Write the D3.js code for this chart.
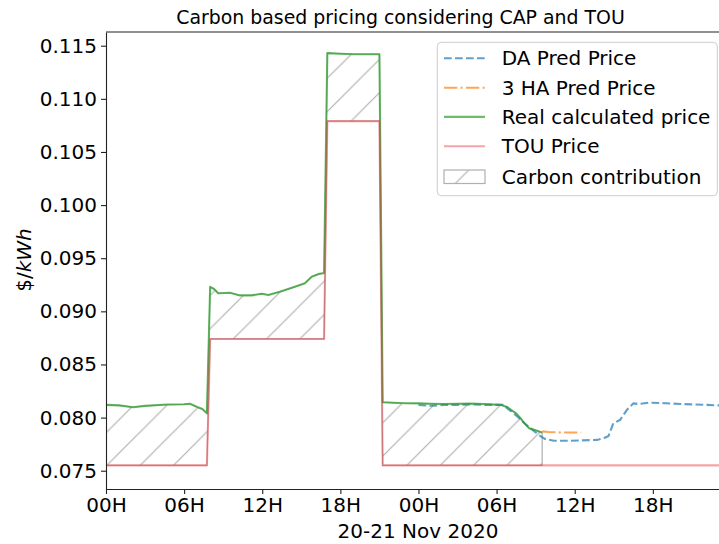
<!DOCTYPE html>
<html>
<head>
<meta charset="utf-8">
<script src="https://cdn.jsdelivr.net/npm/d3@7"></script>
<style>
  body { margin: 0; background: #fff; }
  svg { display: block; }
  text { font-family: "DejaVu Sans", sans-serif; fill: #000; }
</style>
</head>
<body>
<svg id="chart" width="719" height="544"></svg>
<script>
// Hours since 00:00 on 20 Nov 2020, with prices in $/kWh
const touHours   = [0, 7.75, 8, 16.75, 17, 21, 21.25, 47.75];
const touPrice   = [0.0755, 0.0755, 0.0874, 0.0874, 0.1079, 0.1079, 0.0755, 0.0755];

const realHours  = [0, 1, 2.07, 3, 4.7, 6, 6.45, 7.0, 7.4, 7.75,
                    8.0, 8.3, 8.62, 9.52, 10.29, 11.19, 11.96, 12.47, 13.36, 14.39, 15.28, 15.8, 16.3, 16.75,
                    17.0, 18, 19, 20, 21.0,
                    21.25, 22, 23, 24, 25, 26, 27, 28, 29, 30.3, 30.8, 31.5, 31.8, 32.05, 32.5, 33.0, 33.25, 33.5];
const realPrice  = [0.0812, 0.08115, 0.08098, 0.0811, 0.08123, 0.08125, 0.0813, 0.0810, 0.0808, 0.0804,
                    0.0923, 0.0921, 0.0917, 0.09175, 0.0915, 0.0915, 0.09166, 0.09154, 0.09185, 0.09226, 0.09264, 0.09326, 0.0935, 0.0936,
                    0.1143, 0.11425, 0.1142, 0.1142, 0.1142,
                    0.08145, 0.0814, 0.08135, 0.08134, 0.0813, 0.08128, 0.0813, 0.08132, 0.08128, 0.0812, 0.0810, 0.0804, 0.0800, 0.0796, 0.0790, 0.0788, 0.0787, 0.0786];

const daHours    = [24, 25, 26, 27, 28, 29, 30.5, 30.9, 31.5, 32.2, 32.6, 33.2, 33.7, 34.4, 35.5, 36.5, 37.7, 38.3, 38.6,
                    38.96, 39.48, 40.0, 40.5, 40.9, 41.65, 43, 44.1, 46, 47.75];
const daPrice    = [0.08118, 0.08112, 0.0812, 0.0812, 0.08125, 0.0812, 0.0812, 0.0808, 0.0802, 0.0794, 0.0790, 0.0784, 0.0780, 0.07782, 0.07782, 0.07785, 0.0779, 0.0781, 0.07827,
                    0.07946, 0.07977, 0.08071, 0.08134, 0.08128, 0.0814, 0.08135, 0.08128, 0.0812, 0.08112];

const ha3Hours   = [33.5, 34, 35, 36, 36.5];
const ha3Price   = [0.0787, 0.07865, 0.0786, 0.0786, 0.0786];

const xTickHours = [0, 6, 12, 18, 24, 30, 36, 42];
const xTickText  = ["00H", "06H", "12H", "18H", "00H", "06H", "12H", "18H"];
const yTicks     = [0.075, 0.080, 0.085, 0.090, 0.095, 0.100, 0.105, 0.110, 0.115];

const seriesNames = ["DA Pred Price", "3 HA Pred Price", "Real calculated price", "TOU Price", "Carbon contribution"];

const zip = (ts, vs) => ts.map((t, i) => ({ t, v: vs[i] }));
const tou  = zip(touHours, touPrice);
const real = zip(realHours, realPrice);
const da   = zip(daHours, daPrice);
const ha3  = zip(ha3Hours, ha3Price);

const svg = d3.select("#chart");
const plotL = 106, plotR = 727.7, plotT = 32, plotB = 489;
const x = d3.scaleLinear().domain([0, 47.75]).range([plotL, plotR]);
const y = d3.scaleLinear().domain([0.07328, 0.11629]).range([plotB, plotT]);

const FS = 20;
const defs = svg.append("defs");
defs.append("clipPath").attr("id", "plot-clip")
  .append("rect").attr("x", plotL).attr("y", plotT).attr("width", plotR - plotL).attr("height", plotB - plotT);

// diagonal "/" hatch, 45 degrees
const P = 100 / 3;
const pat = defs.append("pattern").attr("id", "hatch")
  .attr("patternUnits", "userSpaceOnUse")
  .attr("x", 5.5).attr("y", 0).attr("width", P).attr("height", P);
pat.append("path")
  .attr("d", `M0,${P} L${P},0 M${-P/2},${P/2} L${P/2},${-P/2} M${P/2},${1.5*P} L${1.5*P},${P/2}`)
  .attr("stroke", "#b0b0b0").attr("stroke-width", 1.2).attr("fill", "none");

const line = d3.line().x(d => x(d.t)).y(d => y(d.v));

const plot = svg.append("g").attr("clip-path", "url(#plot-clip)");

// carbon share: region between the real price and the TOU price
const endHour = realHours[realHours.length - 1];
const touUnder = tou.filter(d => d.t <= endHour).concat([{ t: endHour, v: touPrice[touPrice.length - 1] }]);
const region = real.concat(touUnder.slice().reverse());
plot.append("path")
  .attr("d", line(region) + "Z")
  .attr("fill", "url(#hatch)")
  .attr("stroke", "#b0b0b0").attr("stroke-width", 1.2);

const styles = {
  da:   { color: "#1f77b4", op: 0.7, dash: "7.7,3.3" },
  ha3:  { color: "#ff7f0e", op: 0.7, dash: "13.3,3.3,2.1,3.3" },
  real: { color: "#2ca02c", op: 0.7, dash: null },
  tou:  { color: "#e8383a", op: 0.45, dash: null }
};

function drawLine(data, s) {
  plot.append("path")
    .attr("d", line(data))
    .attr("fill", "none")
    .attr("stroke", s.color).attr("stroke-opacity", s.op)
    .attr("stroke-width", 2.1)
    .attr("stroke-dasharray", s.dash)
    .attr("stroke-linejoin", "round");
}
drawLine(da, styles.da);
drawLine(ha3, styles.ha3);
drawLine(real, styles.real);
drawLine(tou, styles.tou);

// axes
const xAxis = svg.append("g").attr("transform", `translate(0,${plotB})`)
  .call(d3.axisBottom(x).tickValues(xTickHours).tickFormat((d, i) => xTickText[i]).tickSize(5).tickSizeOuter(0).tickPadding(4));
const yAxis = svg.append("g").attr("transform", `translate(${plotL},0)`)
  .call(d3.axisLeft(y).tickValues(yTicks).tickFormat(d3.format(".3f")).tickSize(5).tickSizeOuter(0).tickPadding(4));
[xAxis, yAxis].forEach(g => {
  g.selectAll("text").style("font-size", FS + "px").style("font-family", "DejaVu Sans");
  g.selectAll("line, path").attr("stroke", "#222").attr("stroke-width", 1.1);
});
svg.append("line").attr("x1", plotL).attr("x2", plotR).attr("y1", plotT).attr("y2", plotT)
  .attr("stroke", "#222").attr("stroke-width", 1.1);

// titles
svg.append("text").attr("x", 400.5).attr("y", 24).attr("text-anchor", "middle")
  .style("font-size", "18.9px").text("Carbon based pricing considering CAP and TOU");
svg.append("text").attr("x", 418).attr("y", 538).attr("text-anchor", "middle")
  .style("font-size", FS + "px").text("20-21 Nov 2020");
const yl = svg.append("text").attr("transform", "translate(31,260) rotate(-90)")
  .attr("text-anchor", "middle").style("font-size", FS + "px");
yl.append("tspan").text("$/");
yl.append("tspan").style("font-style", "italic").text("kWh");

// legend
const lg = svg.append("g");
lg.append("rect").attr("x", 437.3).attr("y", 42.3).attr("width", 280).attr("height", 153.4)
  .attr("rx", 4).attr("fill", "#fff").attr("fill-opacity", 0.8).attr("stroke", "#cccccc").attr("stroke-width", 1);
const rowY = [58.3, 87.7, 116.9, 146.2, 176.7];
const legendStyles = [styles.da, styles.ha3, styles.real, styles.tou];
legendStyles.forEach((s, i) => {
  lg.append("line").attr("x1", 444).attr("x2", 485).attr("y1", rowY[i]).attr("y2", rowY[i])
    .attr("stroke", s.color).attr("stroke-opacity", s.op).attr("stroke-width", 2.1)
    .attr("stroke-dasharray", s.dash);
});
lg.append("rect").attr("x", 444).attr("y", 170).attr("width", 41).attr("height", 13.5)
  .attr("fill", "url(#hatch)").attr("stroke", "#b0b0b0").attr("stroke-width", 1.2);
seriesNames.forEach((name, i) => {
  lg.append("text").attr("x", 501.7).attr("y", rowY[i] + 7).style("font-size", FS + "px").text(name);
});
</script>
</body>
</html>
